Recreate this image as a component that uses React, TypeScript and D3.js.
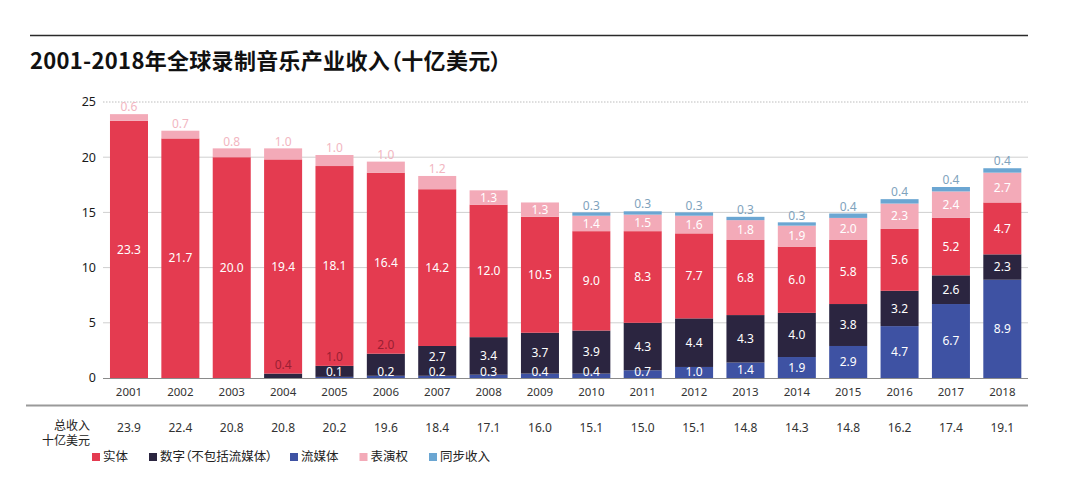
import React from 'react';
import * as d3 from 'd3';

const years = ['2001','2002','2003','2004','2005','2006','2007','2008','2009','2010','2011','2012','2013','2014','2015','2016','2017','2018'];
const physical = [23.3,21.7,20.0,19.4,18.1,16.4,14.2,12.0,10.5,9.0,8.3,7.7,6.8,6.0,5.8,5.6,5.2,4.7];
const digital = [0,0,0,0.4,1.0,2.0,2.7,3.4,3.7,3.9,4.3,4.4,4.3,4.0,3.8,3.2,2.6,2.3];
const streaming = [0,0,0,0,0.1,0.2,0.2,0.3,0.4,0.4,0.7,1.0,1.4,1.9,2.9,4.7,6.7,8.9];
const performance = [0.6,0.7,0.8,1.0,1.0,1.0,1.2,1.3,1.3,1.4,1.5,1.6,1.8,1.9,2.0,2.3,2.4,2.7];
const sync = [0,0,0,0,0,0,0,0,0,0.3,0.3,0.3,0.3,0.3,0.4,0.4,0.4,0.4];
const totals = ['23.9','22.4','20.8','20.8','20.2','19.6','18.4','17.1','16.0','15.1','15.0','15.1','14.8','14.3','14.8','16.2','17.4','19.1'];
const yTicks = [0,5,10,15,20,25];
const seriesKeys = ['physical','digital','streaming','performance','sync'];
const seriesNames = ['实体','数字（不包括流媒体）','流媒体','表演权','同步收入'];
const title = '2001-2018年全球录制音乐产业收入（十亿美元）';
const totalLabel = ['总收入','十亿美元'];

const colors: Record<string,string> = {
  physical: '#e43b50',
  digital: '#2b2540',
  streaming: '#3e52a3',
  performance: '#f3aab8',
  sync: '#6ba6d2',
};
const aboveColors: Record<string,string> = {
  digital: '#9a1f33',
  performance: '#f2b6c1',
  sync: '#7fa3bd',
};

const FONT = '"Noto Sans", "Noto Sans CJK SC", sans-serif';
const CJK = '"Noto Sans CJK SC", sans-serif';

export default function App() {
  const W = 1080, H = 480;
  const x = d3.scaleBand<string>().domain(years).range([103.3, 1028]).paddingInner(0.26).paddingOuter(0.13);
  const y = d3.scaleLinear().domain([0, 25]).range([378, 102]);

  const rows = years.map((yr, i) => ({
    year: yr,
    physical: physical[i], digital: digital[i], streaming: streaming[i],
    performance: performance[i], sync: sync[i],
  }));
  const stackOrder = ['streaming','digital','physical','performance','sync'];
  const stacked = d3.stack<any>().keys(stackOrder)(rows);

  const labels: any[] = [];
  stacked.forEach((s) => {
    const key = s.key;
    s.forEach((d, i) => {
      const v = (rows[i] as any)[key];
      if (!v) return;
      const cx = (x(years[i]) as number) + x.bandwidth() / 2;
      const mid = y((d[0] + d[1]) / 2);
      let ly = mid, fill = '#ffffff';
      if (key === 'streaming') {
        ly = Math.min(mid, y(0) - 6);
      } else if (key === 'digital') {
        if (v < 2.1 && streaming[i] < 1) { ly = y(d[1]) - 9; fill = aboveColors.digital; }
        else if (streaming[i] < 1) { ly = Math.min(mid, y(0) - 21); }
      } else if (key === 'performance') {
        if (v < 1.25) { ly = y(d[1]) - 7; fill = aboveColors.performance; }
      } else if (key === 'sync') {
        ly = y(d[1]) - 7; fill = aboveColors.sync;
      }
      labels.push({ key: key + i, x: cx, y: ly, text: v.toFixed(1), fill });
    });
  });

  // legend layout: width estimate per glyph (CJK full, proportional brackets half)
  let lx = 92;
  const legend = seriesKeys.map((k, i) => {
    const item = { key: k, x: lx, name: seriesNames[i] };
    const chars = Array.from(seriesNames[i]);
    const w = chars.reduce((a, c) => a + ('（）'.includes(c) ? 4.5 : 12.5), 0);
    lx += 11 + w + 21;
    return item;
  });

  return (
    <svg width={W} height={H} style={{ position: 'absolute', left: 0, top: 0, background: '#fff' }}>
      <line x1={30} x2={1028} y1={35.5} y2={35.5} stroke="#2a2a2a" strokeWidth={1.5} />
      <text x={30} y={69} fontFamily={CJK} fontWeight={700} fontSize={22} fill="#111"
        style={{ fontFeatureSettings: '"palt"' }} letterSpacing={0.3}>{title}</text>

      {yTicks.map((t) => (
        <g key={t}>
          {t > 0 && (
            <line x1={103} x2={1028} y1={y(t)} y2={y(t)} stroke={t === 25 ? '#bdbdbd' : '#cfcfcf'} strokeWidth={1}
              strokeDasharray={t === 25 ? '1.5,1.5' : undefined} />
          )}
          <text x={96} y={y(t)} dy="0.35em" textAnchor="end" fontFamily={FONT} fontSize={12.5} fill="#1a1a1a">{t}</text>
        </g>
      ))}

      {stacked.map((s) => (
        <g key={s.key} fill={colors[s.key]}>
          {s.map((d, i) => (d[1] - d[0] > 0 ? (
            <rect key={i} x={x(years[i])} width={x.bandwidth()} y={y(d[1])} height={y(d[0]) - y(d[1])} />
          ) : null))}
        </g>
      ))}

      <line x1={103} x2={1028} y1={378.5} y2={378.5} stroke="#8a8a8a" strokeWidth={1} />

      {labels.map((l) => (
        <text key={l.key} x={l.x} y={l.y} dy="0.35em" textAnchor="middle" fontFamily={FONT} fontSize={12} fill={l.fill}>{l.text}</text>
      ))}

      {years.map((yr) => (
        <text key={yr} x={(x(yr) as number) + x.bandwidth() / 2} y={392} dy="0.35em" textAnchor="middle" fontFamily={FONT} fontSize={11.5} fill="#333">{yr}</text>
      ))}

      <line x1={26} x2={1028} y1={405.5} y2={405.5} stroke="#9a9a9a" strokeWidth={2} />

      <text x={90} y={426} dy="0.35em" textAnchor="end" fontFamily={CJK} fontSize={12} fill="#222">{totalLabel[0]}</text>
      <text x={90} y={441} dy="0.35em" textAnchor="end" fontFamily={CJK} fontSize={12} fill="#222">{totalLabel[1]}</text>
      {years.map((yr, i) => (
        <text key={yr} x={(x(yr) as number) + x.bandwidth() / 2} y={428} dy="0.35em" textAnchor="middle" fontFamily={FONT} fontSize={12} fill="#333">{totals[i]}</text>
      ))}

      {legend.map((it) => (
        <g key={it.key} transform={`translate(${it.x},457)`}>
          <rect x={0} y={-4} width={8} height={8} fill={colors[it.key]} />
          <text x={11} y={0} dy="0.35em" fontFamily={CJK} fontSize={12.5} fill="#222"
            style={{ fontFeatureSettings: '"palt"' }}>{it.name}</text>
        </g>
      ))}
    </svg>
  );
}
